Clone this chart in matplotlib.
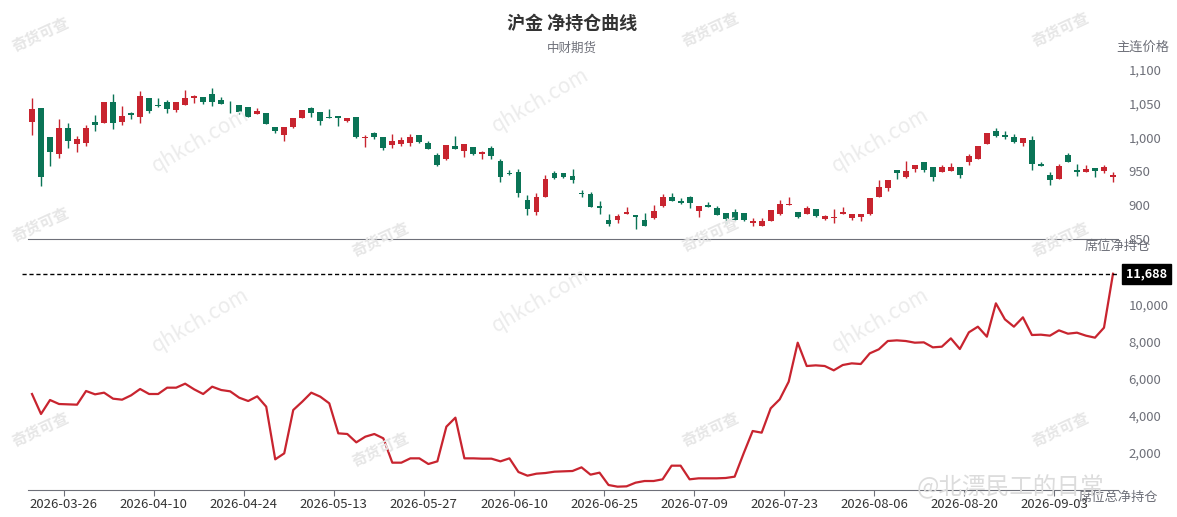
import matplotlib.pyplot as plt
import numpy as np

plt.rcParams['font.family'] = ['Noto Sans CJK SC', 'DejaVu Sans']

# OHLC (121 trading days)
opens = [1023.6, 1043.3, 1001.4, 975.8, 1013.7, 990, 992.5, 1023.6, 1021, 1052.2,
         1023.6, 1036, 1031, 1059, 1048.3, 1052.7, 1040.8, 1048.7, 1058, 1059.6,
         1064.5, 1055.6, 1051.7, 1048.3, 1044.8, 1035.4, 1036.4, 1015.2, 1003.9, 1016.2,
         1028.5, 1043.3, 1038.4, 1031, 1032.5, 1025.1, 1030, 999, 1006.3, 1000.4,
         989.1, 990.6, 992.5, 1003.9, 991.6, 973.8, 968.4, 987.6, 980.7, 986.6,
         975.8, 985.2, 965.9, 947.2, 949.6, 907.2, 890.5, 912.7, 947.2, 948.2,
         943.3, 918.6, 916.6, 899.4, 878.2, 878.2, 887.4, 885.6, 878.2, 880.6,
         898.9, 912.7, 906.3, 912.7, 891.9, 900.4, 896.4, 888, 890.5, 888,
         873.2, 869.8, 876.7, 887, 900.4, 889.5, 886.5, 893.9, 879.6, 880.6,
         887, 881.6, 882.1, 887, 912.7, 925, 952.1, 942.3, 953.6, 964.4,
         957, 949.6, 951.1, 957, 964.4, 967.9, 990.1, 1009.8, 1003.9, 1001.4,
         991.6, 996.5, 961, 944.7, 938.8, 974.3, 952.1, 949.6, 954.6, 950.6,
         941.3]
closes = [1041.8, 942.2, 979.2, 1013.7, 995, 998, 1014.7, 1018.7, 1052.7, 1022,
          1032.5, 1033.5, 1061.5, 1039.4, 1046.8, 1042.3, 1052.2, 1058, 1061.6, 1052.2,
          1053.2, 1049.7, 1050.7, 1038.4, 1031, 1039.4, 1020.1, 1010.3, 1016.2, 1028.5,
          1040.8, 1036.9, 1025.1, 1028.5, 1029.5, 1029.5, 1001.4, 1000.4, 1001.4, 984.2,
          995, 996.5, 1001.4, 994, 982.7, 959.5, 989.1, 982.7, 990.6, 975.8,
          978.2, 972.8, 941.3, 945.7, 918.6, 894.4, 911.7, 938.8, 939.8, 942.3,
          937.3, 916.6, 896.9, 896.4, 871.8, 884.1, 890, 882.1, 869.8, 891.5,
          911.7, 906.8, 902.8, 902.8, 899.4, 897.9, 885.6, 879.6, 878.2, 878.2,
          877.2, 877.2, 893, 901.8, 901.8, 883.1, 896.4, 884.1, 884.6, 882.1,
          889.5, 887, 887, 911.2, 926.5, 937.3, 947.2, 950.6, 959.5, 952.1,
          942.3, 956, 957, 944.7, 972.8, 987.6, 1007.3, 1002.4, 1001.4, 994,
          999, 960.5, 958, 937.3, 958, 964.4, 949.6, 953, 951.1, 957,
          944.7]
highs = [1058, 1043.3, 1001.4, 1027, 1022, 1002, 1018.7, 1033.5, 1052.7, 1064.5,
         1046.8, 1038.4, 1069, 1059, 1058, 1055.6, 1052.2, 1070.4, 1063, 1059.6,
         1073.4, 1060.6, 1054.7, 1048.3, 1044.8, 1044.3, 1036.4, 1015.2, 1016.2, 1028.5,
         1040.8, 1045.8, 1038.4, 1041.8, 1032.5, 1029.5, 1030, 1003.9, 1008.8, 1000.4,
         1004.9, 1000.4, 1005.4, 1003.9, 995, 976.7, 989.1, 1002.4, 990.6, 986.6,
         980.7, 987.6, 967.9, 952.1, 953, 915.1, 917.6, 944.7, 951.1, 948.2,
         953, 922.5, 919, 906.3, 887, 887, 896.9, 885.6, 889, 899.9,
         916.1, 917.6, 910.2, 913.7, 899.4, 905.3, 898.9, 888, 894.4, 888,
         880.6, 880.6, 893, 907.7, 912.7, 889.5, 899.4, 893.9, 885.6, 894.4,
         897.9, 887, 887, 911.2, 937.3, 937.3, 952.1, 965.4, 959.5, 964.4,
         957, 959.5, 963, 957, 975.8, 987.6, 1007.3, 1014.7, 1009.8, 1004.9,
         999, 1002.4, 964.4, 949.6, 961, 976.7, 961, 959.5, 954.6, 959.5,
         949.6]
lows = [1004, 928.5, 958.5, 969.4, 985, 978, 987.6, 1010, 1021, 1013,
        1018.7, 1027, 1022, 1037, 1045.8, 1037, 1037.4, 1048.7, 1051.7, 1049.2,
        1046.8, 1049.7, 1037, 1035, 1031, 1035.4, 1020.1, 1006.3, 995.5, 1014.7,
        1028.5, 1031, 1018.7, 1028.5, 1017.2, 1023.6, 999, 986.6, 997.5, 981.7,
        984.2, 987.6, 987.6, 992.5, 982.7, 958, 966.9, 982.7, 971.8, 974.3,
        968.4, 968.4, 934.9, 945, 911.7, 885.6, 885.6, 912.7, 938.3, 939.8,
        932.4, 911.7, 896.9, 886.5, 869.3, 873.2, 887, 864.4, 869.8, 879.6,
        896.9, 906.8, 901.3, 896.4, 883.1, 897.9, 885.6, 872.2, 878.2, 876.7,
        869.8, 869.8, 876, 885.6, 900.4, 881.6, 886.5, 882.1, 878.2, 874.2,
        887, 878.2, 877.2, 885.6, 912.7, 921, 938.3, 939.8, 949.6, 949.6,
        936.3, 949.6, 951.1, 939.8, 959.5, 967.9, 990.1, 1000.4, 997.5, 991.6,
        987.6, 952.1, 958, 929.9, 938.8, 964.4, 943.3, 949.6, 942.3, 947.2,
        934.9]

# seat net position
net_pos = [5189, 4108, 4865, 4648, 4630, 4612, 5351, 5171, 5261, 4936,
           4882, 5117, 5459, 5189, 5189, 5531, 5531, 5747, 5441, 5189,
           5585, 5405, 5333, 4990, 4810, 5063, 4504, 1657, 1981, 4324,
           4774, 5261, 5045, 4684, 3063, 3027, 2576, 2882, 3027, 2793,
           1477, 1477, 1711, 1711, 1405, 1549, 3423, 3910, 1711, 1711,
           1693, 1693, 1549, 1711, 972, 774, 882, 918, 990, 1009,
           1027, 1225, 829, 937, 270, 180, 198, 396, 486, 486,
           577, 1315, 1315, 577, 631, 631, 631, 649, 721, 1982,
           3189, 3099, 4414, 4900, 5855, 7963, 6702, 6738, 6702, 6468,
           6756, 6846, 6810, 7387, 7603, 8053, 8089, 8053, 7963, 7981,
           7711, 7747, 8197, 7621, 8522, 8828, 8287, 10090, 9225, 8828,
           9333, 8378, 8396, 8342, 8630, 8450, 8504, 8342, 8234, 8774,
           11688]

tick_labels = ['2026-03-26', '2026-04-10', '2026-04-24', '2026-05-13', '2026-05-27',
               '2026-06-10', '2026-06-25', '2026-07-09', '2026-07-23', '2026-08-06',
               '2026-08-20', '2026-09-03']

up_c = '#c8242f'
dn_c = '#0a7456'
grey = '#6e7079'

W, H = 1177, 517
fig = plt.figure(figsize=(W / 100, H / 100), dpi=100)

def ax_rect(x0, y0, x1, y1):
    return [x0 / W, 1 - y1 / H, (x1 - x0) / W, (y1 - y0) / H]

x = np.arange(len(opens))
ax1 = fig.add_axes(ax_rect(27.5, 70, 1117.5, 239))
ax2 = fig.add_axes(ax_rect(27.5, 268, 1117.5, 490))

for i in x:
    o, c = opens[i], closes[i]
    col = up_c if c >= o else dn_c
    ax1.vlines(i, lows[i], highs[i], color=col, lw=1)
    ax1.bar(i, max(abs(c - o), 0.8), bottom=min(o, c), width=0.65, color=col, lw=0)

ax1.set_xlim(-0.5, len(opens) - 0.5)
ax1.set_ylim(850, 1100)
ax1.set_yticks(range(850, 1101, 50))
ax1.set_yticklabels([f'{v:,}' for v in range(850, 1101, 50)])

ax2.plot(x, net_pos, color=up_c, lw=1.6)
ax2.set_xlim(-0.5, len(opens) - 0.5)
ax2.set_ylim(0, 12000)
ax2.set_yticks(range(2000, 10001, 2000))
ax2.set_yticklabels([f'{v:,}' for v in range(2000, 10001, 2000)])
ax2.axhline(net_pos[-1], color='black', lw=1, ls=(0, (3, 2)), clip_on=False, xmin=-0.005)
ax2.text(1.008, net_pos[-1], f'{net_pos[-1]:,}', transform=ax2.get_yaxis_transform(),
         ha='left', va='center', color='white', fontsize=9, fontweight='bold',
         bbox=dict(boxstyle='square,pad=0.3', fc='black', ec='black'))

for ax in (ax1, ax2):
    for s in ('top', 'left', 'right'):
        ax.spines[s].set_visible(False)
    ax.spines['bottom'].set_color(grey)
    ax.yaxis.tick_right()
    ax.tick_params(axis='y', length=0, labelsize=9.5, labelcolor=grey, pad=8)
    ax.patch.set_alpha(0)

ax1.set_xticks([])
tick_pos = [3.5 + 10 * k for k in range(len(tick_labels))]
ax2.set_xticks(tick_pos)
ax2.set_xticklabels(tick_labels)
ax2.tick_params(axis='x', length=4, color=grey, labelsize=9.5, labelcolor='#333333', pad=2)

fig.text(572 / W, 1 - 23 / H, '沪金 净持仓曲线', ha='center', va='center', fontsize=13,
         fontweight='bold', color='#333333')
fig.text(572 / W, 1 - 48 / H, '中财期货', ha='center', va='center', fontsize=9, color=grey)
fig.text(1143 / W, 1 - 47 / H, '主连价格', ha='center', va='center', fontsize=9.5, color=grey)
fig.text(1118 / W, 1 - 246 / H, '席位净持仓', ha='center', va='center', fontsize=9.5, color=grey)
fig.text(1118 / W, 1 - 497 / H, '席位总净持仓', ha='center', va='center', fontsize=9.5, color=grey)

# faint watermarks
for (wx, wy) in [(40, 35), (710, 30), (1060, 30), (40, 225), (380, 240), (710, 235),
                 (1060, 240), (40, 430), (380, 450), (710, 430), (1060, 430)]:
    fig.text(wx / W, 1 - wy / H, '奇货可查', fontsize=11, color='#e6e6e6', rotation=25,
             ha='center', va='center', fontweight='bold', zorder=0)
for (wx, wy) in [(200, 140), (540, 100), (880, 140), (200, 320), (540, 300), (880, 320)]:
    fig.text(wx / W, 1 - wy / H, 'qhkch.com', fontsize=15, color='#ececec', rotation=30,
             ha='center', va='center', zorder=0)
fig.text(1010 / W, 1 - 487 / H, '@北漂民工的日常', fontsize=17, color='#dcdcdc',
         ha='center', va='center', zorder=5)

fig.savefig('out.png', dpi=100)
